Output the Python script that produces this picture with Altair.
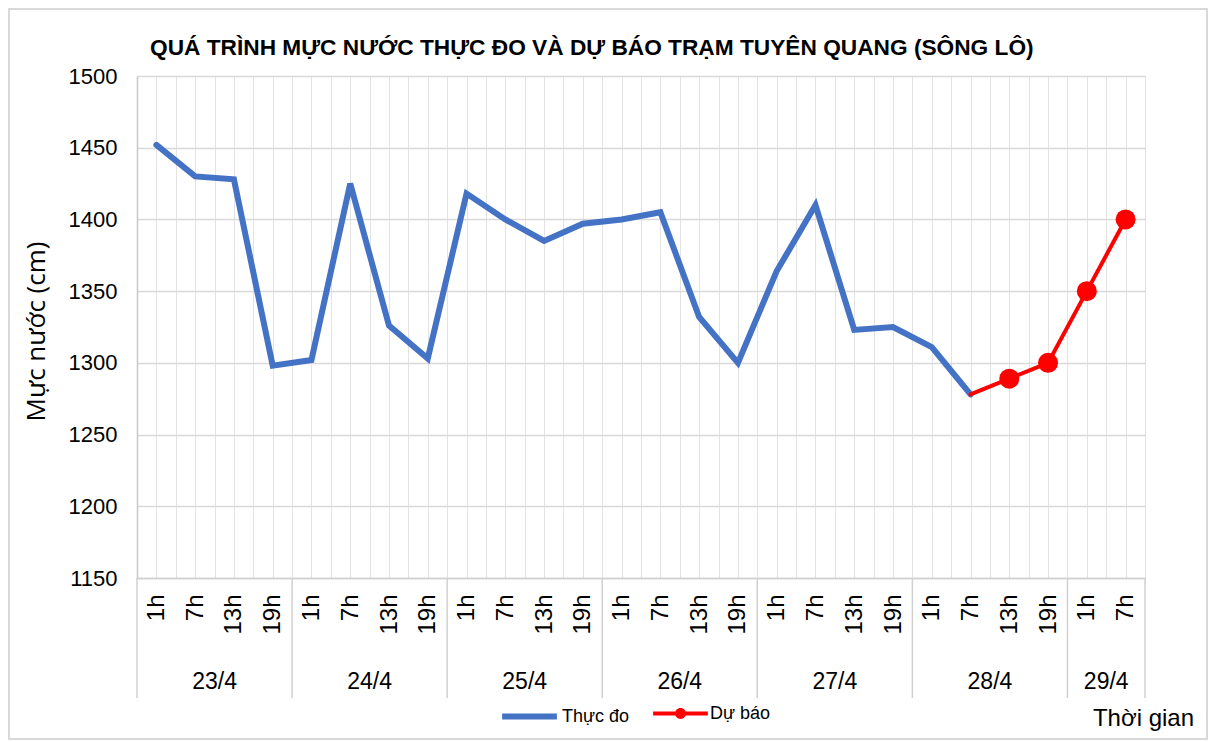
import altair as alt
import pandas as pd

# ---- data ----
days = ["23/4", "24/4", "25/4", "26/4", "27/4", "28/4", "29/4"]
day_hours = [
    ["1h", "7h", "13h", "19h"],
    ["1h", "7h", "13h", "19h"],
    ["1h", "7h", "13h", "19h"],
    ["1h", "7h", "13h", "19h"],
    ["1h", "7h", "13h", "19h"],
    ["1h", "7h", "13h", "19h"],
    ["1h", "7h"],
]
observed = [1452, 1430, 1428, 1298,
            1302, 1425, 1326, 1303,
            1418, 1400, 1385, 1397,
            1400, 1405, 1332, 1300,
            1364, 1410, 1323, 1325,
            1311, 1278]
forecast = [1278, 1289, 1300, 1350, 1400]   # starts at 28/4 7h
forecast_marker = [False, True, True, True, True]
y_ticks = [1150, 1200, 1250, 1300, 1350, 1400, 1450, 1500]

S_OBS = "Thực đo"
S_FC = "Dự báo"

# ---- tables built from the lists ----
hour_labels = [h for hs in day_hours for h in hs]
n = len(hour_labels)

obs_df = pd.DataFrame({"idx": list(range(len(observed))), "value": observed, "series": S_OBS})
fc_start = len(observed) - 1
fc_df = pd.DataFrame({"idx": list(range(fc_start, fc_start + len(forecast))),
                      "value": forecast, "series": S_FC, "marker": forecast_marker})
fc_df["series_mk"] = fc_df["series"]
line_df = pd.concat([obs_df, fc_df[["idx", "value", "series"]]], ignore_index=True)

bounds, centers = [], []
pos = 0
for hs in day_hours:
    bounds.append(pos - 0.5)
    centers.append(pos + (len(hs) - 1) / 2)
    pos += len(hs)
bounds.append(pos - 0.5)
day_df = pd.DataFrame({"idx": centers, "day": days})
sep_df = pd.DataFrame({"idx": bounds})

W, H = 1008, 502
FONT = "Liberation Sans, Arial, sans-serif"
GRID = "#d9d9d9"

grid_values = [i * 0.5 - 0.5 for i in range(2 * n + 1)]
label_arr = "[" + ",".join("'" + h + "'" for h in hour_labels) + "]"
label_expr = "datum.value % 1 === 0 ? " + label_arr + "[datum.value] : ''"

x_scale = alt.Scale(domain=[-0.5, n - 0.5], nice=False, zero=False)
y_scale = alt.Scale(domain=[1150, 1500], nice=False, zero=False)

x_axis = alt.Axis(
    values=grid_values,
    labelExpr=label_expr,
    labelAngle=270, labelAlign="right", labelBaseline="middle",
    labelPadding=16, labelFontSize=24, labelFont=FONT, labelColor="#000000",
    ticks=False, grid=True, gridColor="#e3e3e3", gridWidth=1,
    domain=True, domainColor="#d0d0d0", domainWidth=1.5,
    labelOverlap=False, labelBound=False, labelFlush=False,
    title="Thời gian", titleFont=FONT, titleFontSize=24, titleFontWeight="normal",
    titleColor="#000000", titleX=1006, titleY=140, titleAlign="center",
    titleBaseline="middle", titleAnchor="start",
)
y_axis = alt.Axis(
    values=y_ticks, format="d", labelFontSize=22, labelFont=FONT, labelColor="#000000",
    labelPadding=20, ticks=False, grid=True, gridColor=GRID, gridWidth=1.5,
    domain=True, domainColor="#c8c8c8", domainWidth=1.5,
    title="Mực nước (cm)", titleFont="Open Sans", titleFontSize=26,
    titleFontWeight="normal", titleColor="#000000", titleAngle=270,
    titleX=-101, titleY=255, titleAlign="center", titleBaseline="middle",
)

X = alt.X("idx:Q", scale=x_scale, axis=x_axis)
Y = alt.Y("value:Q", scale=y_scale, axis=y_axis)

# legend symbol for the forecast: a line with a dot on it
FC_SYMBOL = ("M-1,-0.075L1,-0.075L1,0.075L-1,0.075Z "
             "M0.2,0A0.2,0.2 0 1,1 -0.2,0A0.2,0.2 0 1,1 0.2,0Z")

color = alt.Color(
    "series:N",
    scale=alt.Scale(domain=[S_OBS, S_FC], range=["#4472C4", "#FF0000"]),
    legend=alt.Legend(
        title=None, orient="none", direction="horizontal",
        legendX=362, legendY=610, values=[S_OBS],
        symbolType="stroke", symbolStrokeWidth=6, symbolSize=3000,
        labelFont=FONT, labelFontSize=18, labelColor="#000000",
        labelOffset=2,
    ),
)

lines = alt.Chart(line_df).mark_line(strokeCap="round", strokeJoin="miter").encode(
    x=X,
    y=Y,
    color=color,
    strokeWidth=alt.StrokeWidth("series:N", scale=alt.Scale(domain=[S_OBS, S_FC], range=[6, 4]), legend=None),
    order="idx:Q",
)

points = alt.Chart(fc_df).transform_filter("datum.marker").mark_circle(
    size=400, color="#FF0000"
).encode(
    x=X, y=Y,
    opacity=alt.Opacity(
        "series_mk:N", scale=alt.Scale(domain=[S_FC], range=[1]),
        legend=alt.Legend(
            title=None, orient="none", direction="horizontal",
            legendX=516, legendY=610,
            symbolType=FC_SYMBOL, symbolSize=3000, symbolFillColor="#FF0000",
            symbolStrokeWidth=0, symbolOpacity=1,
            labelFont=FONT, labelFontSize=18, labelColor="#000000",
            labelOffset=2,
        ),
    ),
)

seps = alt.Chart(sep_df).mark_rule(color="#d0d0d0", strokeWidth=1.5).encode(
    x=X,
    y=alt.value(H),
    y2=alt.value(H + 120),
)

day_text = alt.Chart(day_df).mark_text(
    font=FONT, fontSize=23, color="#000000", baseline="middle", align="center"
).encode(
    x=X,
    y=alt.value(H + 104),
    text="day:N",
)

# light frame around the whole chart, as in the reference
frame = alt.Chart(pd.DataFrame({"f": [0]})).mark_rect(
    fill="transparent", stroke="#d9d9d9", strokeWidth=2
).encode(
    x=alt.value(-128), x2=alt.value(W + 62),
    y=alt.value(-67), y2=alt.value(H + 161),
)

chart = alt.layer(lines, points, seps, day_text, frame).properties(
    width=W, height=H,
    title=alt.TitleParams(
        "QUÁ TRÌNH MỰC NƯỚC THỰC ĐO VÀ DỰ BÁO TRẠM TUYÊN QUANG (SÔNG LÔ)",
        font=FONT, fontSize=22.7, fontWeight="bold", color="#000000",
        anchor="start", frame="group", dx=13, dy=56, offset=4,
    ),
    autosize=alt.AutoSizeParams(type="none"),
    padding={"left": 129, "top": 68, "right": 63, "bottom": 162},
).configure_view(stroke="#d0d0d0", strokeWidth=1)

chart.save("out.html", embed_options={"renderer": "svg", "actions": False})
